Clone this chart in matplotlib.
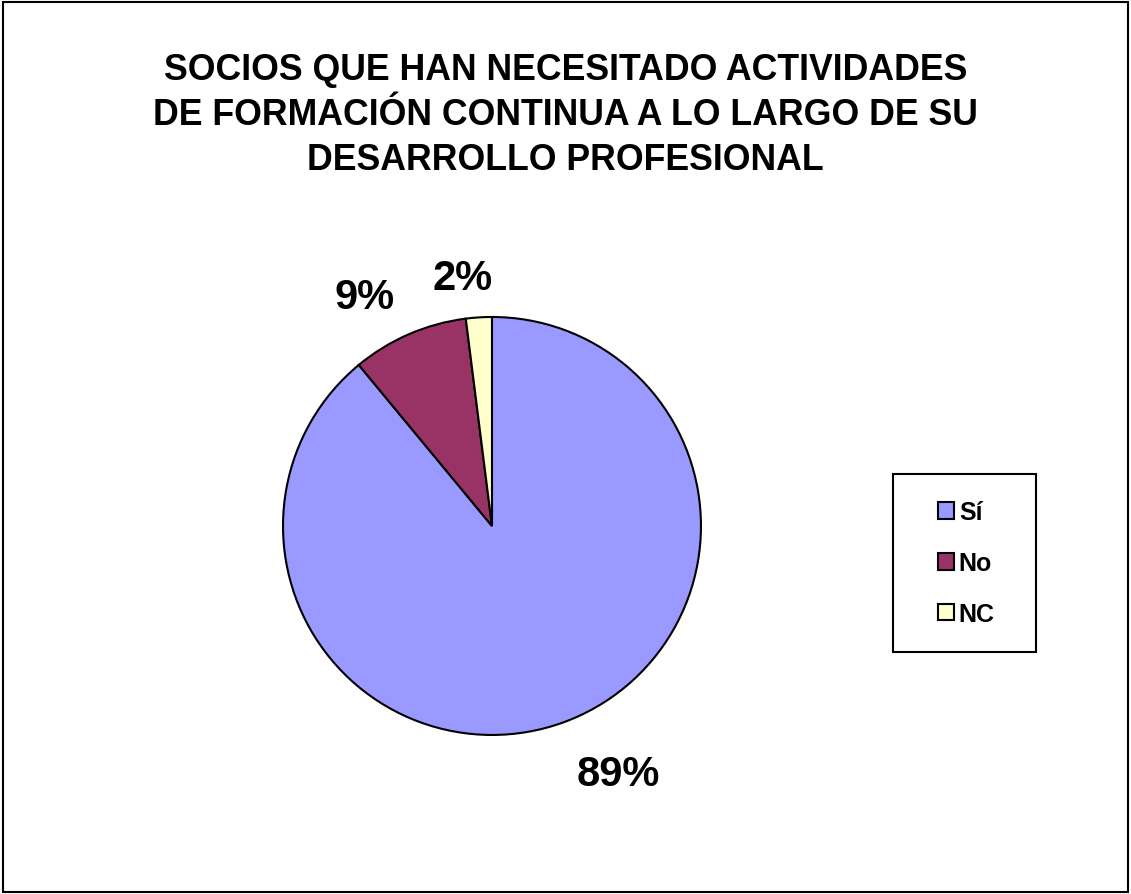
import matplotlib
matplotlib.use('Agg')
import matplotlib.pyplot as plt
from matplotlib.patches import Rectangle

plt.rcParams['font.family'] = ['Liberation Sans', 'DejaVu Sans']

categorias = ['Sí', 'No', 'NC']
porcentajes = [89, 9, 2]
colores = ['#9999FF', '#993366', '#FFFFCC']
titulo = 'SOCIOS QUE HAN NECESITADO ACTIVIDADES\nDE FORMACIÓN CONTINUA A LO LARGO DE SU\nDESARROLLO PROFESIONAL'
# pequeño desplazamiento de cada etiqueta (x, y) respecto a su posición por defecto
ajustes = [(0.18, 0.0), (-0.11, -0.06), (-0.06, -0.07)]

fig = plt.figure(figsize=(11.31, 8.95), dpi=100)
# marco exterior del gráfico
fig.patches.append(Rectangle((0.003, 0.002), 0.994, 0.995, transform=fig.transFigure,
                             fill=False, edgecolor='black', linewidth=1.5))

ax = fig.add_axes([0.2502, 0.1777, 0.3696, 0.467])
wedges, textos, pct = ax.pie(porcentajes, colors=colores, startangle=90, counterclock=False,
                             autopct='%d%%', pctdistance=1.26,
                             wedgeprops=dict(edgecolor='black', linewidth=1.5),
                             textprops=dict(fontsize=30, fontweight='bold'))
for t, (dx, dy) in zip(pct, ajustes):
    x, y = t.get_position()
    t.set_position((x + dx, y + dy))
ax.set_xlim(-1, 1)
ax.set_ylim(-1, 1)
ax.set_aspect('equal')

fig.text(0.5, 0.941, titulo, ha='center', va='top', fontsize=25.7, fontweight='bold',
         linespacing=1.38)

# caja de la leyenda (más ancha que lo que da borderpad)
fig.patches.append(Rectangle((0.7896, 0.2704), 0.1264, 0.1989, transform=fig.transFigure,
                             facecolor='white', edgecolor='black', linewidth=1.5, zorder=2))
leg = fig.legend(wedges, categorias, loc='center', bbox_to_anchor=(0.8545, 0.3698),
                 frameon=False, handlelength=0.65, handleheight=0.65, handletextpad=0.18,
                 labelspacing=1.07, borderpad=0,
                 prop=dict(size=18, weight='bold'))
leg.set_zorder(3)
for h in leg.legend_handles:
    h.set_linewidth(1.5)

fig.savefig('out.png', dpi=100)
